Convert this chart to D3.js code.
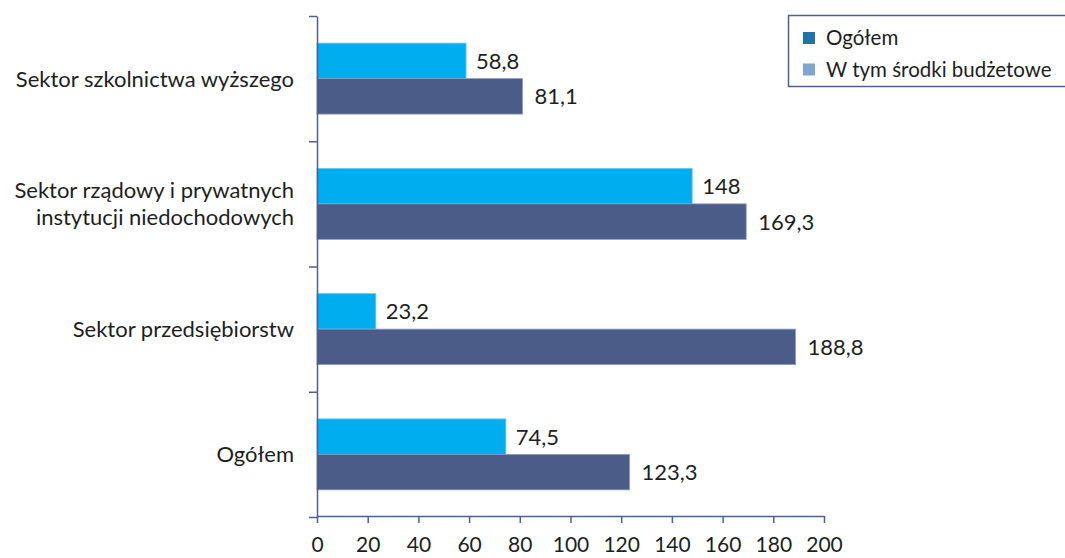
<!DOCTYPE html>
<html><head><meta charset="utf-8">
<script src="https://cdn.jsdelivr.net/npm/d3@7"></script>
<style>
html,body{margin:0;padding:0;background:#fff;}
svg{display:block;font-family:"Lato","DejaVu Sans",sans-serif;}
</style></head>
<body>
<svg id="chart" width="1065" height="558"></svg>
<script>
const categories = [
  ["Sektor szkolnictwa wyższego"],
  ["Sektor rządowy i prywatnych", "instytucji niedochodowych"],
  ["Sektor przedsiębiorstw"],
  ["Ogółem"]
];
const budgetValues = [58.8, 148, 23.2, 74.5];   // W tym środki budżetowe
const totalValues  = [81.1, 169.3, 188.8, 123.3]; // Ogółem
const xTicks = [0, 20, 40, 60, 80, 100, 120, 140, 160, 180, 200];
const legendLabels = ["Ogółem", "W tym środki budżetowe"];
const legendColors = ["#1f72aa", "#7ea6d1"];

const svg = d3.select("#chart");
const axisColor = "#4d6090";
const textColor = "#1e1e1e";
const fontSize = 22;

const x = d3.scaleLinear().domain([0, 200]).range([317, 824]);
const y = d3.scaleBand().domain(d3.range(categories.length)).range([16, 517]).paddingInner(0).paddingOuter(0);
const ySub = d3.scaleBand().domain(["budget", "total"]).range([0, y.bandwidth()]).paddingInner(0).paddingOuter(0.765);
const yBound = d3.scaleLinear().domain([0, categories.length]).range([16, 517]);

// bars
const seriesDefs = [
  {key: "budget", values: budgetValues, fill: "#00aeef", stroke: "#63c9f2", dx: 10},
  {key: "total", values: totalValues, fill: "#4a5c87", stroke: "#8c9dc2", dx: 12}
];
seriesDefs.forEach(s => {
  const g = svg.append("g");
  g.selectAll("rect").data(s.values).join("rect")
    .attr("x", x(0))
    .attr("y", (d, i) => y(i) + ySub(s.key))
    .attr("width", d => x(d) - x(0))
    .attr("height", ySub.bandwidth())
    .attr("fill", s.fill)
    .attr("stroke", s.stroke)
    .attr("stroke-width", 0.8);
  g.selectAll("text").data(s.values).join("text")
    .attr("x", d => x(d) + s.dx)
    .attr("y", (d, i) => y(i) + ySub(s.key) + ySub.bandwidth() / 2)
    .attr("dy", "0.36em")
    .attr("font-size", fontSize)
    .attr("fill", textColor)
    .text(d => String(d).replace(".", ","));
});

// left axis (ticks at category boundaries)
const leftAxis = svg.append("g").attr("transform", `translate(${x(0)},0)`)
  .call(d3.axisLeft(yBound).tickValues(d3.range(categories.length + 1)).tickSize(8).tickSizeOuter(0).tickFormat(""));
leftAxis.selectAll("path,line").attr("stroke", axisColor).attr("stroke-width", 1.5);

// bottom axis
const bottomAxis = svg.append("g").attr("transform", `translate(0,${516})`)
  .call(d3.axisBottom(x).tickValues(xTicks).tickSize(7).tickSizeOuter(0).tickPadding(14).tickFormat(d => d));
bottomAxis.selectAll("path,line").attr("stroke", axisColor).attr("stroke-width", 1.5);
bottomAxis.selectAll("text").attr("font-size", 21).attr("fill", textColor).attr("font-family", "Lato, DejaVu Sans, sans-serif");

// category labels
categories.forEach((lines, i) => {
  const cy = y(i) + y.bandwidth() / 2;
  const lh = 27;
  const t = svg.append("text")
    .attr("text-anchor", "end")
    .attr("font-size", fontSize)
    .attr("fill", textColor);
  lines.forEach((ln, j) => {
    t.append("tspan")
      .attr("x", 294)
      .attr("y", cy + (j - (lines.length - 1) / 2) * lh)
      .attr("dy", "0.36em")
      .text(ln);
  });
});

// legend
const lg = svg.append("g");
lg.append("rect").attr("x", 788.5).attr("y", 15.5).attr("width", 300).attr("height", 71)
  .attr("fill", "#fff").attr("stroke", axisColor).attr("stroke-width", 1.5);
legendLabels.forEach((lab, i) => {
  lg.append("rect").attr("x", 803).attr("y", 32 + i * 31.5).attr("width", 12).attr("height", 12)
    .attr("fill", legendColors[i]);
  lg.append("text").attr("x", 826).attr("y", 38 + i * 31.5).attr("dy", "0.36em")
    .attr("font-size", 20.5).attr("fill", textColor).text(lab);
});
</script>
</body></html>
